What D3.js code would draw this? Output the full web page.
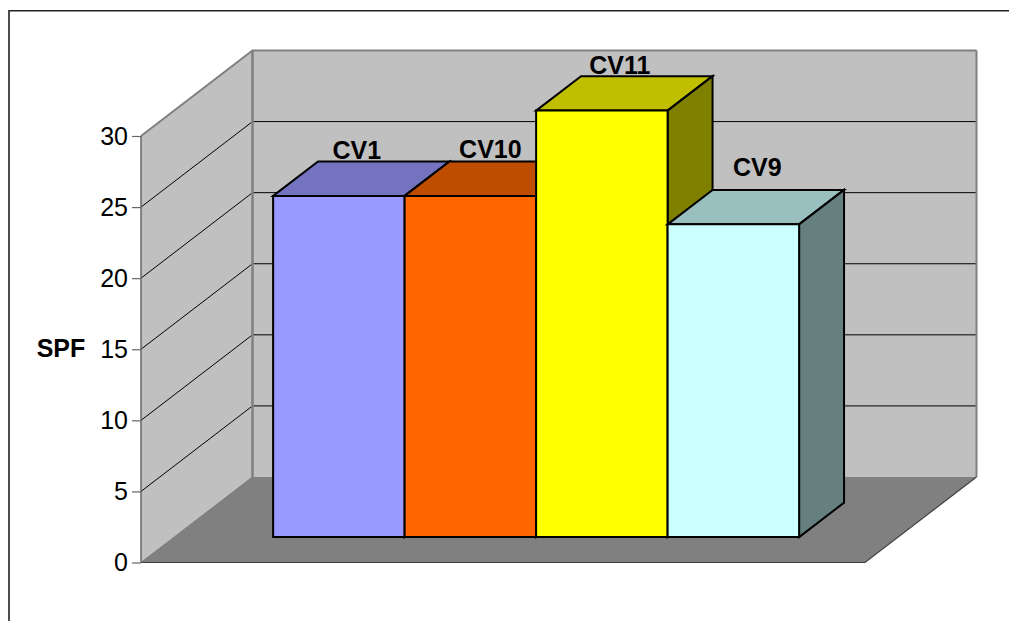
<!DOCTYPE html>
<html>
<head>
<meta charset="utf-8">
<script src="https://cdn.jsdelivr.net/npm/d3@7"></script>
<style>
html, body { margin: 0; padding: 0; background: #fff; }
svg { display: block; }
text { font-family: "Liberation Sans", Arial, sans-serif; fill: #000; }
</style>
</head>
<body>
<svg id="chart" width="1009" height="621"></svg>
<script>
// SPF per cultivar
const cultivars = ["CV1", "CV10", "CV11", "CV9"];
const spfValues = [24, 24, 30, 22];
const frontColors = ["#9999ff", "#ff6600", "#ffff00", "#ccffff"];
const topColors = ["#7373bf", "#bf4d00", "#bfbf00", "#99bfbf"];
const sideColors = ["#4d4d80", "#803300", "#808000", "#668080"];
const yTicks = [0, 5, 10, 15, 20, 25, 30];
const axisTitle = "SPF";

// Hand-placed label shifts from the bar's front-top centre, in pixels
const labelShiftX = [18, 20, 18, 24];
const labelShiftY = [-37, -38, -36.5, -48];

const svg = d3.select("#chart");

// Oblique projection of the 3-D box: depth d in [0, 1] shifts a point up and to the right.
const depth = { dx: 111.5, dy: -85.5 };
const y = d3.scaleLinear().domain([0, 30]).range([562.5, 136]);
const project = (px, v, d) => [px + depth.dx * d, y(v) + depth.dy * d];

const floorLeft = 141, floorRight = 865;
const barDepthStart = 0.297, barDepthEnd = 0.7;
const x = d3.scaleBand().domain(cultivars).range([240, 766]);

const poly = (pts, fill, stroke, width) => svg.append("polygon")
  .attr("points", pts.map(p => p.join(",")).join(" "))
  .attr("fill", fill)
  .attr("stroke", stroke || "none")
  .attr("stroke-width", width || 0)
  .attr("stroke-linejoin", "miter");

// Chart frame, running off the page on the right and at the bottom
svg.append("path")
  .attr("d", "M9,621V10.7H1009")
  .attr("fill", "none")
  .attr("stroke", "#222")
  .attr("stroke-width", 1.6);

// Walls and floor
poly([project(floorLeft, 0, 1), project(floorLeft, 30, 1), project(floorRight, 30, 1), project(floorRight, 0, 1)], "#c0c0c0");
poly([project(floorLeft, 0, 0), project(floorLeft, 30, 0), project(floorLeft, 30, 1), project(floorLeft, 0, 1)], "#c0c0c0");
poly([project(floorLeft, 0, 0), project(floorLeft, 0, 1), project(floorRight, 0, 1), project(floorRight, 0, 0)], "#808080");

// Gridlines running along the side wall and across the back wall
const gridTicks = yTicks.filter(t => t > 0 && t < 30);
svg.append("g").selectAll("path").data(gridTicks).join("path")
  .attr("d", t => d3.line()([project(floorLeft, t, 0), project(floorLeft, t, 1), project(floorRight, t, 1)]))
  .attr("fill", "none")
  .attr("stroke", "#000")
  .attr("stroke-width", 1);

// Wall outlines
const outline = (pts, color, width) => svg.append("path")
  .attr("d", d3.line()(pts))
  .attr("fill", "none")
  .attr("stroke", color)
  .attr("stroke-width", width);
outline([project(floorLeft, 30, 0), project(floorLeft, 30, 1), project(floorRight, 30, 1)], "#808080", 2);
outline([project(floorLeft, 0, 1), project(floorLeft, 30, 1)], "#808080", 2.5);
outline([project(floorRight, 0, 1), project(floorRight, 30, 1)], "#808080", 2);
outline([project(floorLeft, 0, 0), project(floorLeft, 0, 1)], "#777", 1);
outline([project(floorLeft, 0, 0), project(floorRight, 0, 0), project(floorRight, 0, 1)], "#404040", 1.2);
outline([project(floorLeft, 0, 0), project(floorLeft, 30, 0)], "#666", 1.5);

// Value axis
const axis = d3.axisLeft(y).tickValues(yTicks).tickSize(9).tickPadding(4).tickFormat(d3.format("d"));
const axisG = svg.append("g").attr("transform", `translate(${floorLeft},0)`).call(axis);
axisG.select(".domain").remove();
axisG.selectAll(".tick line").attr("stroke", "#666").attr("stroke-width", 1.2);
axisG.selectAll(".tick text").style("font-size", "25px").style("font-family", '"Liberation Sans", Arial, sans-serif').attr("fill", "#000");

svg.append("text")
  .attr("x", 61).attr("y", 357)
  .attr("text-anchor", "middle")
  .style("font-size", "25px").style("font-weight", "bold")
  .text(axisTitle);

// Bars, each a front face with top and side faces in depth
const bars = cultivars.map((name, i) => ({ name, value: spfValues[i], i }));
bars.forEach(b => {
  const x0 = x(b.name), x1 = x0 + x.bandwidth();
  const s = barDepthStart, e = barDepthEnd;
  poly([project(x0, b.value, s), project(x0, b.value, e), project(x1, b.value, e), project(x1, b.value, s)],
    topColors[b.i], "#000", 2);
  poly([project(x1, 0, s), project(x1, b.value, s), project(x1, b.value, e), project(x1, 0, e)],
    sideColors[b.i], "#000", 2);
  poly([project(x0, 0, s), project(x0, b.value, s), project(x1, b.value, s), project(x1, 0, s)],
    frontColors[b.i], "#000", 2);
});

// Cultivar labels above each bar
svg.append("g").selectAll("text").data(bars).join("text")
  .attr("x", b => project(x(b.name) + x.bandwidth() / 2, b.value, barDepthStart)[0] + labelShiftX[b.i])
  .attr("y", b => project(0, b.value, barDepthStart)[1] + labelShiftY[b.i])
  .attr("text-anchor", "middle")
  .style("font-size", "25px").style("font-weight", "bold")
  .text(b => b.name);
</script>
</body>
</html>
